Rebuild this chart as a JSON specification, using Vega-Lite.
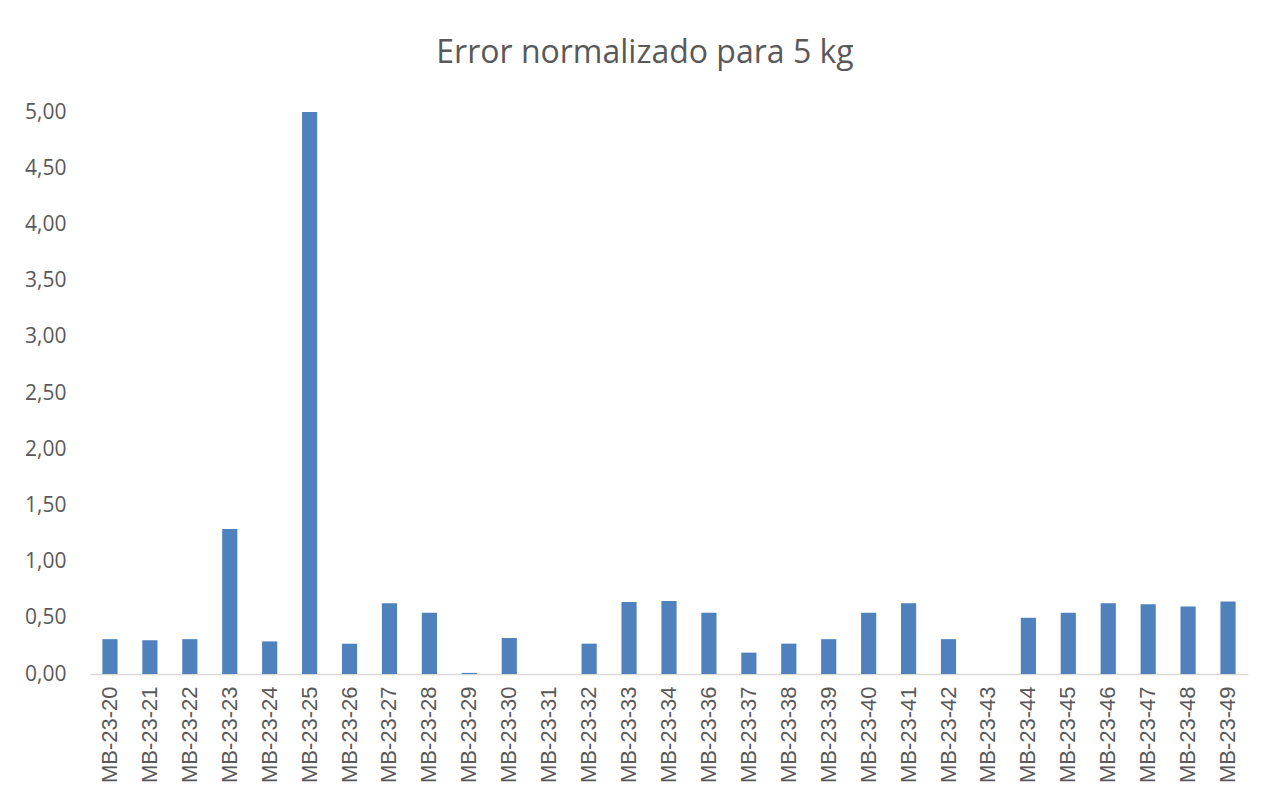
{
  "$schema": "https://vega.github.io/schema/vega-lite/v6.json",
  "autosize": {"type": "none"},
  "width": 1158,
  "height": 562,
  "padding": {"left": 90, "top": 112, "right": 20, "bottom": 123},
  "background": "white",
  "config": {
    "locale": {"number": {"decimal": ",", "thousands": ".", "grouping": [3], "currency": ["", " €"]}},
    "view": {"stroke": null},
    "font": "Open Sans"
  },
  "title": {
    "text": "Error normalizado para 5 kg",
    "fontSize": 32,
    "font": "Open Sans",
    "fontWeight": "normal",
    "color": "#595959",
    "anchor": "middle",
    "dx": -24,
    "offset": 31
  },
  "data": {
    "values": [
      {"muestra": "MB-23-20", "error": 0.31},
      {"muestra": "MB-23-21", "error": 0.30},
      {"muestra": "MB-23-22", "error": 0.31},
      {"muestra": "MB-23-23", "error": 1.29},
      {"muestra": "MB-23-24", "error": 0.29},
      {"muestra": "MB-23-25", "error": 5.00},
      {"muestra": "MB-23-26", "error": 0.27},
      {"muestra": "MB-23-27", "error": 0.63},
      {"muestra": "MB-23-28", "error": 0.545},
      {"muestra": "MB-23-29", "error": 0.01},
      {"muestra": "MB-23-30", "error": 0.32},
      {"muestra": "MB-23-31", "error": 0.0},
      {"muestra": "MB-23-32", "error": 0.27},
      {"muestra": "MB-23-33", "error": 0.64},
      {"muestra": "MB-23-34", "error": 0.65},
      {"muestra": "MB-23-36", "error": 0.545},
      {"muestra": "MB-23-37", "error": 0.19},
      {"muestra": "MB-23-38", "error": 0.27},
      {"muestra": "MB-23-39", "error": 0.31},
      {"muestra": "MB-23-40", "error": 0.545},
      {"muestra": "MB-23-41", "error": 0.63},
      {"muestra": "MB-23-42", "error": 0.31},
      {"muestra": "MB-23-43", "error": 0.0},
      {"muestra": "MB-23-44", "error": 0.50},
      {"muestra": "MB-23-45", "error": 0.545},
      {"muestra": "MB-23-46", "error": 0.63},
      {"muestra": "MB-23-47", "error": 0.62},
      {"muestra": "MB-23-48", "error": 0.60},
      {"muestra": "MB-23-49", "error": 0.645}
    ]
  },
  "mark": {"type": "bar", "color": "#4f81bd"},
  "encoding": {
    "x": {
      "field": "muestra",
      "type": "nominal",
      "sort": null,
      "scale": {"paddingInner": 0.62, "paddingOuter": 0.31},
      "axis": {
        "title": null,
        "labelAngle": -90,
        "labelFontSize": 22,
        "labelColor": "#595959",
        "labelPadding": 12,
        "ticks": false,
        "domainColor": "#d9d9d9",
        "domainWidth": 1.5,
        "labelFont": "Liberation Sans"
      }
    },
    "y": {
      "field": "error",
      "type": "quantitative",
      "scale": {"domain": [0, 5]},
      "axis": {
        "title": null,
        "values": [0, 0.5, 1, 1.5, 2, 2.5, 3, 3.5, 4, 4.5, 5],
        "format": ".2f",
        "grid": false,
        "domain": false,
        "ticks": false,
        "labelFontSize": 21,
        "labelColor": "#595959",
        "labelPadding": 24,
        "labelFont": "Open Sans"
      }
    }
  }
}
